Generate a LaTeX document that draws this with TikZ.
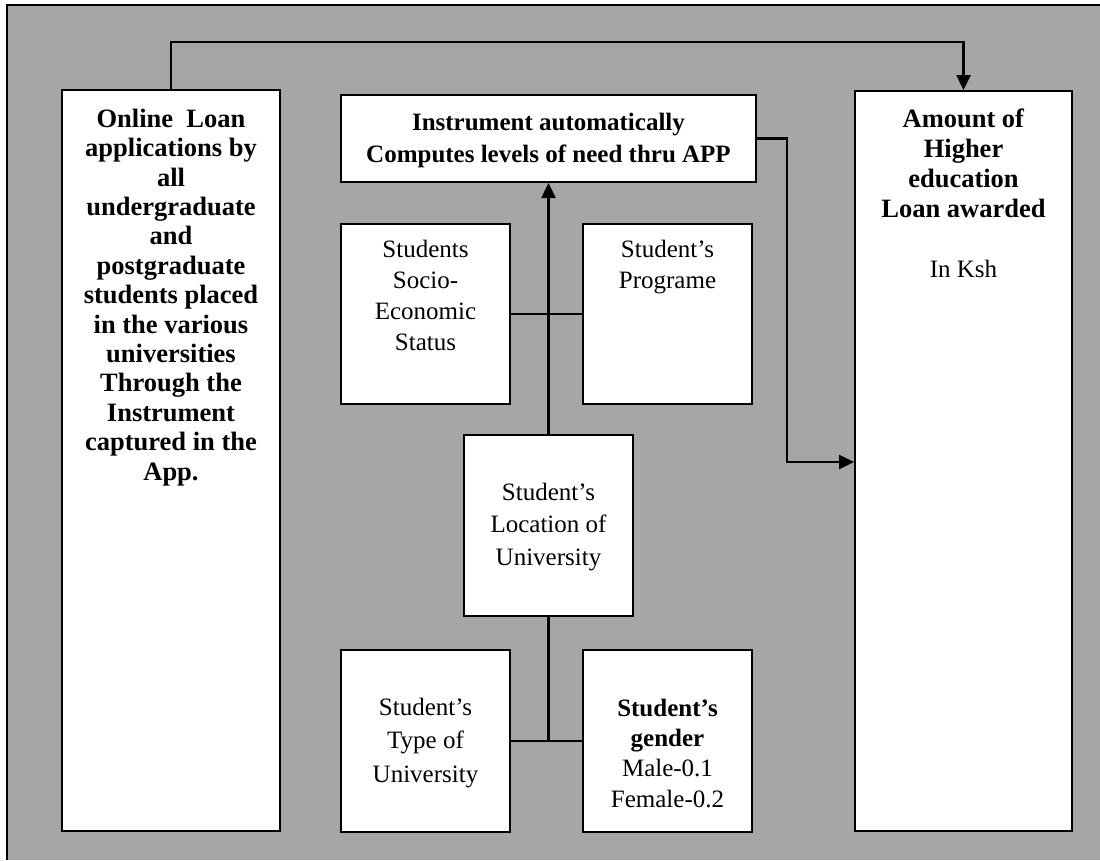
\documentclass[tikz,border=0pt]{standalone}
\usepackage{fontspec}
\setmainfont{Liberation Serif}
\usetikzlibrary{arrows.meta}
\definecolor{bggray}{RGB}{166,166,166}
\tikzset{
  box/.style={draw=black, line width=2pt, fill=white, inner sep=0pt},
  txt/.style={align=center, inner sep=0pt, anchor=base},
  conn/.style={draw=black, line width=2.5pt},
  arr/.style={conn, -{Triangle[length=15pt,width=14pt]}},
}
\newcommand{\fs}[1]{\fontsize{25}{#1}\selectfont}
\newcommand{\fsl}[1]{\fontsize{26.5}{#1}\selectfont}
\begin{document}
\begin{tikzpicture}[x=1pt,y=-1pt]
\useasboundingbox (0,0) rectangle (1100,860);
\fill[bggray] (7,5) rectangle (1100,860);
\draw[line width=2pt] (7,860) -- (7,5) -- (1100,5);
% boxes
\node[box, minimum width=218pt, minimum height=741pt] (lb) at (171,460.5) {};
\node[box, minimum width=217pt, minimum height=740pt] (rb) at (963.5,461) {};
\node[box, minimum width=415pt, minimum height=87pt] (ins) at (548.5,138.5) {};
\node[box, minimum width=169pt, minimum height=180pt] (soc) at (425.5,314) {};
\node[box, minimum width=169pt, minimum height=180pt] (prog) at (667.5,314) {};
\node[box, minimum width=169pt, minimum height=181pt] (loc) at (548.5,525.5) {};
\node[box, minimum width=169pt, minimum height=182pt] (typ) at (425.5,741) {};
\node[box, minimum width=169pt, minimum height=182pt] (gen) at (667.5,741) {};
% texts (anchored at the baseline of their last line)
\node[txt, font=\fsl{29.4}\bfseries] (lbt) at (171,480) {Online\enspace Loan\\applications by\\all\\undergraduate\\and\\postgraduate\\students placed\\in the various\\universities\\Through the\\Instrument\\captured in the\\App.};
\node[txt, font=\fsl{30}] (rbt) at (963.5,277) {\textbf{Amount of}\\\textbf{Higher}\\\textbf{education}\\\textbf{Loan awarded}\\[30pt]\fs{30}In Ksh};
\node[txt, font=\fs{32}\bfseries] (inst) at (548.5,162) {Instrument automatically\\Computes levels of need thru APP};
\node[txt, font=\fs{30.7}] (soct) at (425.5,350) {Students\\Socio-\\Economic\\Status};
\node[txt, font=\fs{30.7}] (progt) at (667.5,288) {Student’s\\Programe};
\node[txt, font=\fs{32.5}] (loct) at (548.5,565) {Student’s\\Location of\\University};
\node[txt, font=\fs{33.5}] (typt) at (425.5,782) {Student’s\\Type of\\University};
\node[txt, font=\fs{30.3}] (gent) at (667.5,807) {\textbf{Student’s}\\\textbf{gender}\\Male-0.1\\Female-0.2};
% connectors
\coordinate (top) at (171,42);
\coordinate (bend) at (787,462);
\draw[arr] (lb.north) -- (lb.north |- top) -| (rb.north);
\draw[arr] (ins.east) -| (bend) -- (bend -| rb.west);
\draw[arr] (loc.north) -- (ins.south);
\draw[conn] (soc.east) -- (prog.west);
\draw[conn] (loc.south) -- (loc.south |- typ.east);
\draw[conn] (typ.east) -- (gen.west);
\end{tikzpicture}
\end{document}
